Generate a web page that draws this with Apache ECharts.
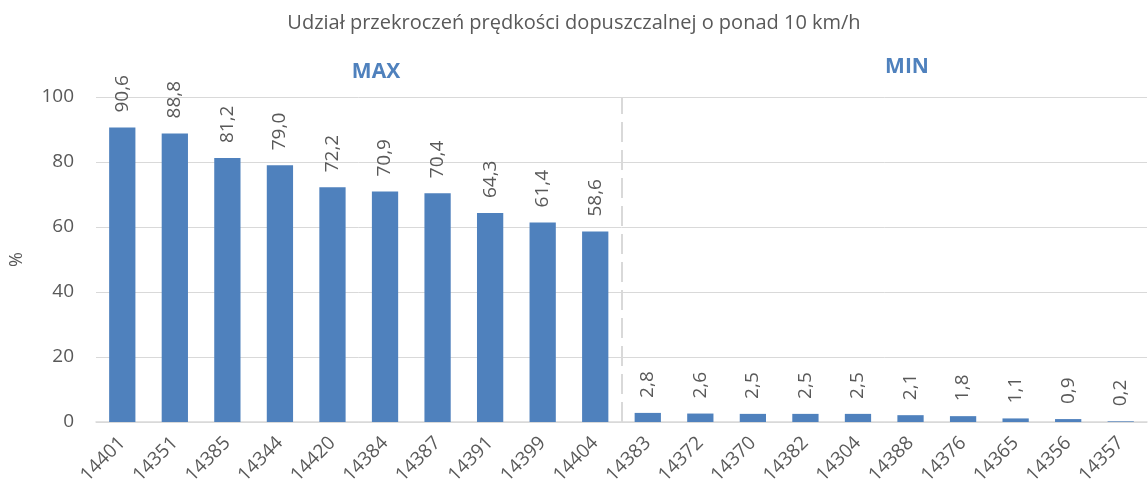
<!DOCTYPE html>
<html><head><meta charset="utf-8">
<script src="https://cdn.jsdelivr.net/npm/echarts@6/dist/echarts.min.js"></script>
<style>html,body{margin:0;padding:0;background:#fff}#c{width:1148px;height:493px}</style>
</head><body><div id="c"></div>
<script>
const categories = ['14401','14351','14385','14344','14420','14384','14387','14391','14399','14404','14383','14372','14370','14382','14304','14388','14376','14365','14356','14357'];
const values = [90.6,88.8,81.2,79.0,72.2,70.9,70.4,64.3,61.4,58.6,2.8,2.6,2.5,2.5,2.5,2.1,1.8,1.1,0.9,0.2];
const yTicks = [0,20,40,60,80,100];
const titleText = 'Udział przekroczeń prędkości dopuszczalnej o ponad 10 km/h';
const groupLabels = ['MAX','MIN'];
const dividerIndex = 10;

const font = '"Open Sans", "Noto Sans", sans-serif';
const chart = echarts.init(document.getElementById('c'), null, {renderer:'canvas'});
chart.setOption({
  animation:false,
  textStyle:{fontFamily:font},
  title:[
    {text:titleText, left:'center', top:8, textStyle:{fontFamily:font, fontSize:20, fontWeight:'normal', color:'#595959'}},
    {text:groupLabels[0], left:371, top:57, textAlign:'center', textStyle:{fontFamily:font, fontSize:21, fontWeight:'bold', color:'#4f81bd'}},
    {text:groupLabels[1], left:902, top:52, textAlign:'center', textStyle:{fontFamily:font, fontSize:21, fontWeight:'bold', color:'#4f81bd'}}
  ],
  grid:{left:95, right:1, top:97, bottom:71, containLabel:false},
  xAxis:[{
    type:'category', data:categories, boundaryGap:true,
    axisLine:{show:true, lineStyle:{color:'#d9d9d9', width:1.5}},
    axisTick:{show:false},
    axisLabel:{rotate:45, margin:18, fontSize:19, color:'#595959', fontFamily:font, interval:0},
    splitLine:{show:false}
  },{
    type:'value', min:0, max:categories.length, show:false
  }],
  yAxis:{
    type:'value', min:yTicks[0], max:yTicks[yTicks.length-1], interval:20,
    name:'%', nameLocation:'middle', nameGap:70, nameRotate:90,
    nameTextStyle:{fontSize:18, color:'#595959', fontFamily:font},
    axisLine:{show:false}, axisTick:{show:false},
    axisLabel:{fontSize:19, color:'#595959', margin:22, fontFamily:font},
    splitLine:{lineStyle:{color:'#d9d9d9', width:1}}
  },
  series:[{
    type:'bar', data:values, barWidth:'50%',
    itemStyle:{color:'#4f81bd'},
    label:{show:true, position:'top', rotate:90, align:'left', verticalAlign:'middle', distance:15,
      fontSize:19, color:'#595959', fontFamily:font,
      formatter:(p)=>p.value.toFixed(1).replace('.',',')}
  },{
    type:'scatter', xAxisIndex:1, data:[], silent:true,
    markLine:{silent:true, symbol:'none', label:{show:false},
      lineStyle:{color:'#d9d9d9', width:2, type:[20,8]},
      data:[{xAxis:dividerIndex}]}
  }]
});
</script></body></html>
